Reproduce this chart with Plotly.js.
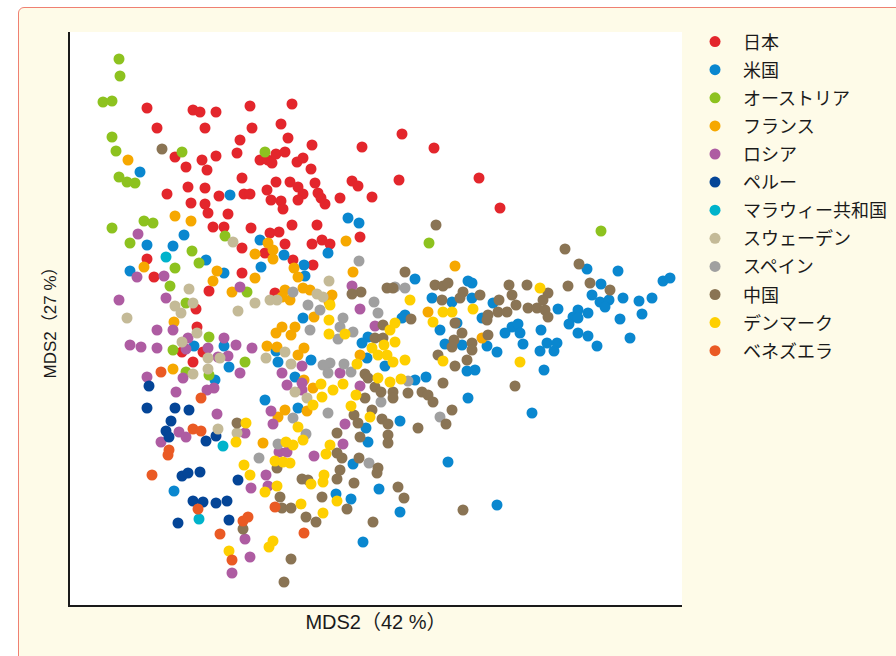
<!DOCTYPE html>
<html><head><meta charset="utf-8">
<script src="https://cdn.plot.ly/plotly-3.0.1.min.js"></script>
<style>
html,body{margin:0;padding:0;background:#ffffff;width:896px;height:656px;overflow:hidden;}
#frame{position:absolute;left:18px;top:7px;width:900px;height:700px;border:1.5px solid #ef8072;border-radius:6px;background:#fefbe8;box-sizing:border-box;}
#chart{position:absolute;left:0;top:0;width:896px;height:656px;}
</style></head>
<body>
<div id="frame"></div>
<div id="chart"></div>
<script>
// MDS coordinates (arbitrary units), [dim1, dim2]
const countries = ["日本","米国","オーストリア","フランス","ロシア","ペルー","マラウィー共和国","スウェーデン","スペイン","中国","デンマーク","ベネズエラ"];
const colors = ["#e3262c","#0a87cf","#8dc21f","#f6a800","#ae5ca2","#044597","#00b3cb","#c4ba97","#a0a0a0","#8a7454","#fecf00","#ea5a24"];

const japan = [[77,497],[123,495],[130,493],[146,493],[180,499],[87,477],[135,477],[182,477],[211,481],[170,465],[167,452],[146,449],[132,445],[105,448],[116,438],[137,435],[190,445],[198,445],[202,442],[206,451],[172,427],[206,423],[118,418],[135,417],[97,411],[149,409],[174,411],[180,411],[197,415],[201,405],[121,402],[135,401],[138,392],[158,391],[211,404],[222,501],[218,467],[242,460],[215,453],[227,443],[233,447],[241,436],[220,423],[228,418],[233,411],[245,422],[248,412],[255,401],[251,407],[228,405],[213,396],[270,407],[282,424],[288,419],[292,458],[302,408],[329,425],[332,471],[364,457],[409,427],[430,397],[143,378],[154,378],[181,377],[200,372],[209,373],[215,361],[222,380],[247,380],[242,361],[252,365],[260,361],[290,368],[223,345],[243,340],[172,357],[195,352],[77,346],[84,328],[172,332],[139,314],[205,312],[126,296],[127,278],[112,253],[133,253],[123,243]];

const usa = [[70,433],[160,410],[278,387],[289,382],[77,360],[114,370],[103,359],[136,345],[60,334],[154,332],[190,365],[191,338],[124,259],[154,259],[206,254],[159,238],[145,225],[208,243],[195,205],[104,114],[258,352],[214,350],[234,340],[235,329],[345,326],[362,307],[398,324],[402,322],[382,303],[402,307],[233,287],[335,290],[332,287],[370,275],[387,282],[298,268],[292,262],[375,261],[392,260],[412,287],[241,245],[297,247],[315,239],[345,225],[356,228],[397,234],[405,235],[398,207],[225,228],[228,197],[330,184],[296,177],[298,163],[283,141],[266,111],[281,106],[309,116],[330,93],[378,143],[293,63],[517,336],[548,334],[593,324],[600,327],[531,321],[522,310],[530,303],[539,305],[535,298],[553,307],[569,304],[582,307],[572,291],[550,286],[560,267],[488,296],[508,295],[503,288],[508,287],[499,281],[518,292],[508,272],[518,269],[527,259],[423,302],[442,278],[448,281],[435,272],[450,272],[471,275],[453,261],[427,253],[417,259],[477,262],[487,262],[484,254],[470,254],[474,235],[462,192],[427,100]];

const austria = [[49,546],[50,529],[33,503],[42,504],[42,468],[46,454],[112,453],[195,453],[49,428],[57,423],[65,422],[74,384],[83,382],[42,377],[60,362],[122,354],[155,369],[129,342],[105,337],[100,319],[177,313],[116,302],[139,268],[103,255],[175,243],[116,233],[139,230],[359,362],[531,374]];

const france = [[58,445],[105,389],[121,384],[74,338],[147,334],[143,324],[185,351],[198,362],[203,355],[203,346],[185,327],[162,313],[104,283],[206,272],[197,259],[103,236],[193,162],[208,188],[215,195],[237,194],[276,364],[283,333],[385,339],[358,293],[224,337],[228,328],[215,315],[212,308],[220,305],[233,317],[240,315],[262,310],[259,303],[244,288],[212,278],[225,278],[221,270],[290,250],[234,257],[228,250],[207,258],[234,225],[243,217],[412,267]];

const russia = [[68,371],[67,328],[94,329],[49,305],[96,307],[170,318],[87,275],[103,275],[118,267],[60,260],[71,258],[87,257],[116,256],[138,257],[154,267],[166,260],[182,257],[148,248],[158,249],[170,232],[77,228],[113,227],[106,213],[137,215],[144,217],[147,191],[201,194],[109,173],[116,168],[91,163],[175,172],[203,181],[196,130],[181,117],[198,119],[175,66],[180,48],[162,32],[275,181],[273,161],[244,149],[209,153],[217,153],[282,319],[290,296],[305,279],[232,239],[212,232],[270,232],[217,220],[232,222],[232,215],[290,219]];

const peru = [[79,219],[77,197],[105,197],[119,195],[101,184],[96,174],[99,168],[136,164],[146,169],[112,129],[118,132],[130,133],[168,125],[123,104],[133,103],[146,102],[157,104],[108,82],[159,85]];

const malawi = [[96,348],[153,159],[129,86]];

const sweden = [[163,363],[119,316],[105,299],[111,292],[123,302],[57,287],[168,294],[185,302],[200,305],[207,305],[127,272],[112,263],[138,247],[150,247],[196,247],[138,236],[123,231],[148,176],[167,172],[259,324],[247,311],[253,308],[215,253],[221,241],[225,213],[237,207]];

const spain = [[189,147],[208,161],[223,187],[236,171],[258,192],[299,142],[370,188],[289,344],[223,313],[238,300],[250,295],[304,303],[308,292],[273,287],[270,278],[268,266],[283,273],[240,275],[335,317],[253,240],[260,242],[258,232],[274,241],[281,233],[338,224],[311,203],[325,318]];

const china = [[92,456],[167,182],[173,76],[207,137],[214,23],[221,46],[366,380],[284,190],[312,186],[318,181],[267,172],[288,182],[290,168],[318,170],[318,162],[348,177],[376,181],[267,152],[272,147],[289,147],[308,137],[307,132],[270,135],[267,126],[232,126],[238,125],[284,122],[328,118],[334,107],[252,108],[210,108],[212,97],[221,97],[236,88],[246,83],[277,96],[303,83],[393,95],[382,195],[335,333],[317,317],[323,317],[291,313],[282,311],[365,320],[373,319],[378,322],[393,313],[390,307],[372,305],[341,286],[313,280],[305,267],[313,267],[385,282],[392,272],[384,265],[382,258],[402,262],[402,255],[397,245],[368,250],[385,239],[295,231],[298,227],[305,218],[311,213],[323,213],[323,207],[338,212],[352,213],[358,210],[363,203],[373,222],[295,207],[302,195],[495,356],[509,341],[520,322],[540,315],[498,319],[439,320],[457,320],[442,310],[478,312],[473,305],[410,310],[429,305],[446,300],[458,297],[467,297],[475,295],[478,288],[418,290],[428,293],[437,293],[417,285],[418,270],[445,219]];

const denmark = [[176,182],[166,163],[174,140],[180,130],[195,113],[207,119],[205,144],[203,64],[199,58],[159,54],[300,188],[228,178],[233,165],[223,160],[216,163],[260,160],[256,151],[220,142],[213,143],[254,130],[253,123],[241,121],[267,104],[231,101],[253,92],[340,305],[373,293],[382,293],[363,283],[403,296],[260,300],[259,285],[259,271],[275,271],[320,275],[325,282],[314,260],[325,263],[302,257],[308,250],[317,250],[323,243],[335,245],[287,241],[373,244],[308,227],[320,223],[331,226],[263,215],[273,221],[251,221],[252,208],[243,200],[286,210],[281,199],[470,317],[450,243]];

const venezuela = [[91,233],[131,207],[123,176],[131,174],[99,155],[98,150],[82,130],[128,96],[173,84],[178,88],[150,71],[162,45],[205,98],[234,72]];

const xRange = [0, 612];
const yRange = [0, 573];

const series = [japan, usa, austria, france, russia, peru, malawi, sweden, spain, china, denmark, venezuela];
const traces = series.map((pts, i) => ({
  type: 'scatter', mode: 'markers', name: countries[i],
  legendgroup: 'g' + i,
  x: pts.map(p => p[0]), y: pts.map(p => p[1]),
  marker: {color: colors[i], size: 11, line: {width: 0}},
  hoverinfo: 'name'
}));

const layout = {
  width: 896, height: 656,
  margin: {l: 70, r: 214, t: 32, b: 51, pad: 0, autoexpand: false},
  paper_bgcolor: 'rgba(0,0,0,0)',
  plot_bgcolor: '#ffffff',
  font: {family: '"Liberation Sans", "Noto Sans CJK JP", sans-serif', color: '#1a1a1a'},
  showlegend: true,
  legend: {
    x: 1.0082, xanchor: 'left', y: 1.015, yanchor: 'top',
    bgcolor: 'rgba(0,0,0,0)', borderwidth: 0,
    font: {family: '"Noto Sans CJK JP", sans-serif', size: 18, color: '#1a1a1a'},
    traceorder: 'grouped', tracegroupgap: 1.7,
    itemwidth: 46, maxheight: 620
  },
  xaxis: {
    range: xRange, showgrid: false, zeroline: false, showticklabels: false, ticks: '',
    showline: true, linecolor: '#1a1a1a', linewidth: 2,
    title: {text: 'MDS2（42 %）', font: {size: 20, color: '#1a1a1a'}, standoff: 9}
  },
  yaxis: {
    range: yRange, showgrid: false, zeroline: false, showticklabels: false, ticks: '',
    showline: true, linecolor: '#1a1a1a', linewidth: 2,
    title: {text: 'MDS2（27 %）', font: {size: 17, color: '#1a1a1a'}, standoff: 7}
  }
};

Plotly.newPlot('chart', traces, layout, {displayModeBar: false, staticPlot: true});
</script>
</body></html>
